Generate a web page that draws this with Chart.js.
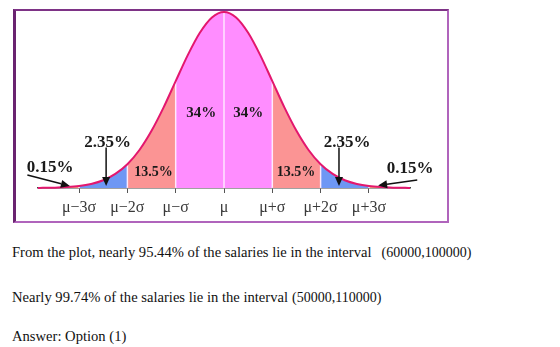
<!DOCTYPE html>
<html>
<head>
<meta charset="utf-8">
<script src="https://cdn.jsdelivr.net/npm/chart.js@4.4.0/dist/chart.umd.min.js"></script>
<style>
  body { margin: 0; background: #fff; width: 560px; height: 347px; overflow: hidden; position: relative; font-family: "Liberation Serif", serif; }
  #frame { position: absolute; left: 13px; top: 9px; width: 431px; height: 210px; border: 2px solid #b064bc; border-left: 3px solid #6a2370; border-top-color: #7e3386; }
  #wrap { position: absolute; left: 0; top: 0; width: 560px; height: 230px; }
  .txt { position: absolute; left: 12px; font-size: 14.6px; line-height: 18px; color: #111; white-space: nowrap; }
  .m { font-size: 14px; margin-left: 10px; }
</style>
</head>
<body>
<div id="frame"></div>
<div id="wrap"><canvas id="myChart" width="560" height="230"></canvas></div>
<div class="txt" style="top:243px">From the plot, nearly 95.44% of the salaries lie in the interval<span class="m">(60000,100000)</span></div>
<div class="txt" style="top:288px">Nearly 99.74% of the salaries lie in the interval<span class="m" style="margin-left:4px">(50000,110000)</span></div>
<div class="txt" style="top:327px">Answer: Option (1)</div>
<script>
// curve: offset from the mean in sigmas, height in % of the peak
var zValues = [-3.85, -3.75, -3.5, -3.25, -3, -2.75, -2.5, -2.25, -2, -1.75, -1.5, -1.25, -1, -0.75, -0.5, -0.25, 0,
               0.25, 0.5, 0.75, 1, 1.25, 1.5, 1.75, 2, 2.25, 2.5, 2.75, 3, 3.25, 3.5, 3.75, 3.85];
var heights = [0, 0.1, 0.2, 0.5, 1.1, 2.3, 4.4, 8.0, 13.5, 21.6, 32.5, 45.8, 60.7, 75.5, 88.2, 96.9, 100,
               96.9, 88.2, 75.5, 60.7, 45.8, 32.5, 21.6, 13.5, 8.0, 4.4, 2.3, 1.1, 0.5, 0.2, 0.1, 0];

var tickValues = [-3, -2, -1, 0, 1, 2, 3];
var tickLabels = ['μ−3σ', 'μ−2σ', 'μ−σ', 'μ', 'μ+σ', 'μ+2σ', 'μ+3σ'];

var regionFrom = [-3.85, -3, -2, -1, 1, 2, 3];
var regionTo = [-3, -2, -1, 1, 2, 3, 3.85];
var regionColors = ['#f7a274', '#6e97f4', '#fb9494', '#ff8dff', '#fb9494', '#6e97f4', '#f7a274'];
var separatorZ = [-3, -2, -1, 0, 1, 2, 3];

var labelTexts = ['34%', '34%', '13.5%', '13.5%', '2.35%', '2.35%', '0.15%', '0.15%'];
var labelZ = [-0.47, 0.5, -1.46, 1.49, -2.41, 2.55, -3.6, 3.85];
var labelH = [42.6, 42.6, 8.8, 8.8, 26, 26, 11.4, 10.8];
var labelSizes = [15, 15, 14, 14, 17, 17, 17, 17];

var arrowFrom = [[-2.44, 23], [2.38, 23], [-4.07, 7.4], [4.0, 4.5]];
var arrowTo = [[-2.44, 1.1], [2.38, 1.1], [-3.19, 1.1], [3.19, 1.4]];

function points(a, b) {
    var out = [];
    zValues.forEach(function (z, i) {
        if (z >= a && z <= b) out.push({ x: z, y: heights[i] });
    });
    return out;
}

var datasets = [{
    data: points(-10, 10),
    borderColor: '#e3176e',
    borderWidth: 2,
    fill: false,
    clip: false
}];
regionFrom.forEach(function (a, i) {
    datasets.push({
        data: points(a, regionTo[i]),
        borderWidth: 0,
        backgroundColor: regionColors[i],
        fill: 'origin'
    });
});

var overlay = {
    id: 'overlay',
    beforeDatasetDraw: function (chart, args) {
        if (args.index !== 0) return;
        var ctx = chart.ctx, x = chart.scales.x, y = chart.scales.y;
        ctx.save();
        ctx.strokeStyle = 'rgba(255,238,255,0.9)';
        ctx.lineWidth = 1.5;
        separatorZ.forEach(function (z) {
            var i = zValues.indexOf(z);
            var px = x.getPixelForValue(z);
            ctx.beginPath();
            ctx.moveTo(px, y.getPixelForValue(0));
            ctx.lineTo(px, y.getPixelForValue(heights[i]));
            ctx.stroke();
        });
        ctx.restore();
    },
    afterDatasetsDraw: function (chart) {
        var ctx = chart.ctx, x = chart.scales.x, y = chart.scales.y;
        ctx.save();
        ctx.fillStyle = '#1a1a1a';
        ctx.textAlign = 'center';
        ctx.textBaseline = 'middle';
        labelTexts.forEach(function (t, i) {
            ctx.font = 'bold ' + labelSizes[i] + 'px "Liberation Serif"';
            ctx.fillText(t, x.getPixelForValue(labelZ[i]), y.getPixelForValue(labelH[i]));
        });
        // arrows
        ctx.strokeStyle = '#111';
        ctx.fillStyle = '#111';
        ctx.lineWidth = 1.5;
        arrowFrom.forEach(function (f, i) {
            var x0 = x.getPixelForValue(f[0]), y0 = y.getPixelForValue(f[1]);
            var x1 = x.getPixelForValue(arrowTo[i][0]), y1 = y.getPixelForValue(arrowTo[i][1]);
            var ang = Math.atan2(y1 - y0, x1 - x0);
            var hl = 9, hw = 4;
            var bx = x1 - hl * Math.cos(ang), by = y1 - hl * Math.sin(ang);
            ctx.beginPath();
            ctx.moveTo(x0, y0);
            ctx.lineTo(bx, by);
            ctx.stroke();
            ctx.beginPath();
            ctx.moveTo(x1, y1);
            ctx.lineTo(bx + hw * Math.sin(ang), by - hw * Math.cos(ang));
            ctx.lineTo(bx - hw * Math.sin(ang), by + hw * Math.cos(ang));
            ctx.closePath();
            ctx.fill();
        });
        ctx.restore();
    }
};

var ctx = document.getElementById('myChart').getContext('2d');
var chart = new Chart(ctx, {
    type: 'line',
    data: { datasets: datasets },
    options: {
        responsive: false,
        animation: false,
        layout: { padding: { left: 38, right: 150, top: 12, bottom: 8 } },
        elements: {
            point: { radius: 0 },
            line: { cubicInterpolationMode: 'monotone' }
        },
        plugins: { legend: { display: false }, tooltip: { enabled: false } },
        scales: {
            x: {
                type: 'linear',
                min: -3.85,
                max: 3.85,
                afterBuildTicks: function (s) { s.ticks = tickValues.map(function (v) { return { value: v }; }); },
                afterFit: function (s) { s.height = 34; },
                ticks: {
                    callback: function (v, i) { return tickLabels[i]; },
                    font: { family: 'Liberation Serif', size: 16 },
                    color: '#3a3a3a',
                    padding: 5,
                    maxRotation: 0,
                    autoSkip: false
                },
                grid: { drawOnChartArea: false, tickLength: 5, color: '#555' },
                border: { color: '#444', width: 1.5 }
            },
            y: { display: false, min: 0, max: 100 }
        }
    },
    plugins: [overlay]
});
</script>
</body>
</html>
